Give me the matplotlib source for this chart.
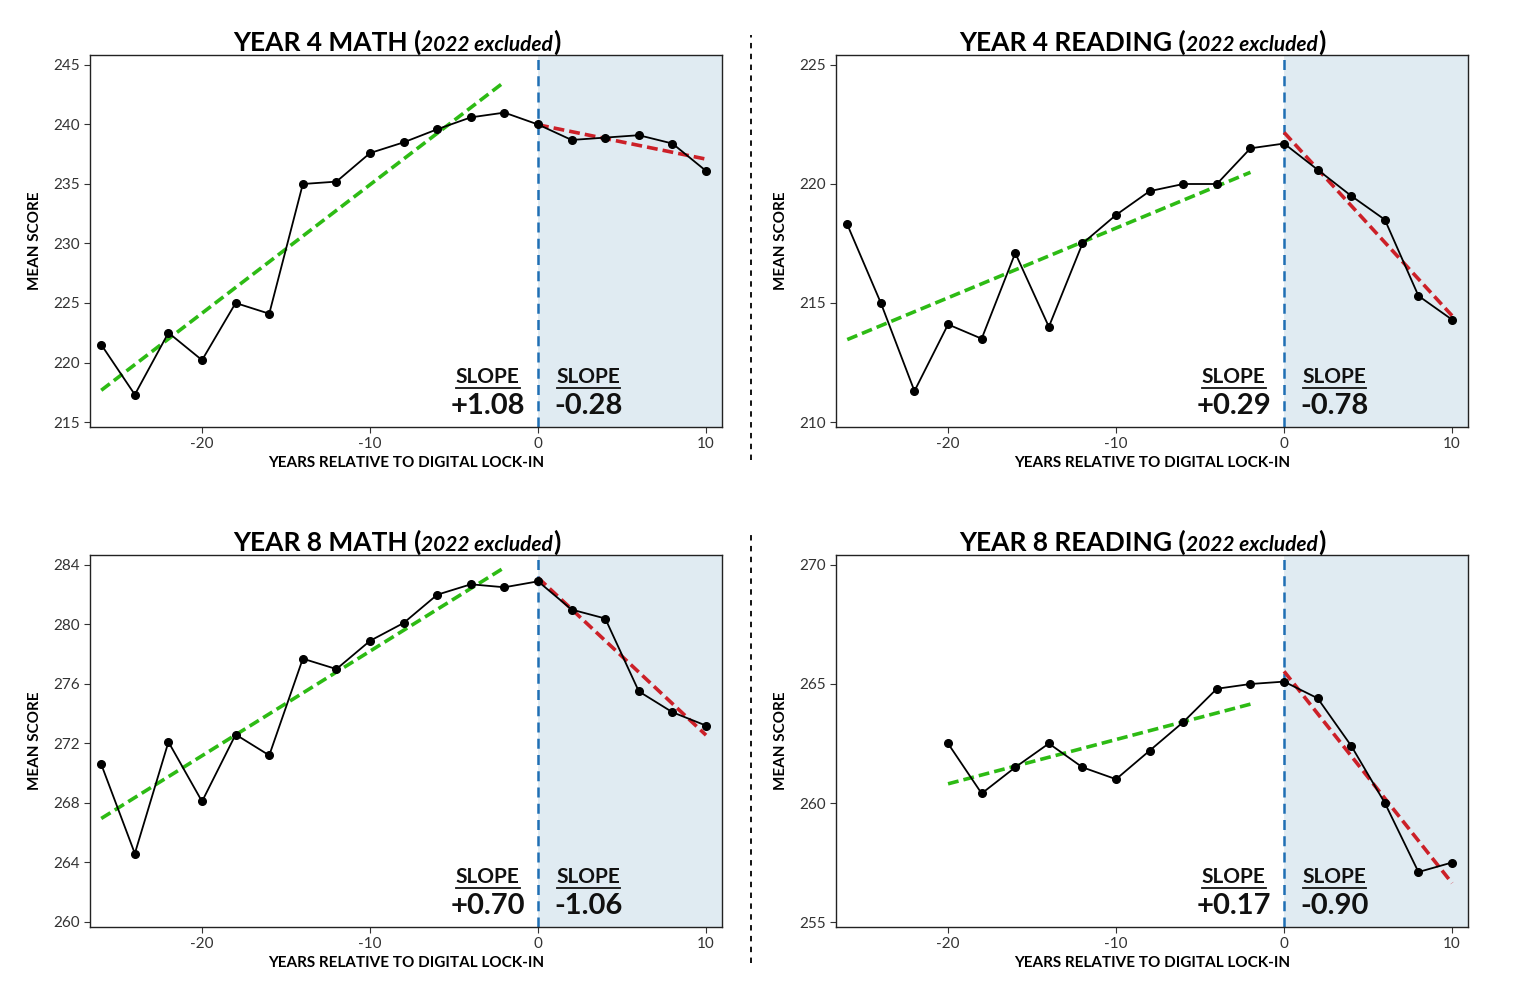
import numpy as np
import matplotlib
matplotlib.use("Agg")
import matplotlib.pyplot as plt
from matplotlib.lines import Line2D

plt.rcParams['font.family'] = ['Lato', 'DejaVu Sans']
plt.rcParams['axes.unicode_minus'] = False

# data
years = [-26, -24, -22, -20, -18, -16, -14, -12, -10, -8, -6, -4, -2, 0, 2, 4, 6, 8, 10]
years_y8r = [-20, -18, -16, -14, -12, -10, -8, -6, -4, -2, 0, 2, 4, 6, 8, 10]

y4_math = [221.5, 217.3, 222.5, 220.2, 225.0, 224.1, 235.0, 235.2, 237.6, 238.5,
           239.6, 240.6, 241.0, 240.0, 238.7, 238.9, 239.1, 238.4, 236.1]
y4_reading = [218.3, 215.0, 211.3, 214.1, 213.5, 217.1, 214.0, 217.5, 218.7, 219.7,
              220.0, 220.0, 221.5, 221.7, 220.6, 219.5, 218.5, 215.3, 214.3]
y8_math = [270.6, 264.6, 272.1, 268.1, 272.6, 271.2, 277.7, 277.0, 278.9, 280.1,
           282.0, 282.7, 282.5, 282.9, 281.0, 280.4, 275.5, 274.1, 273.2]
y8_reading = [262.5, 260.4, 261.5, 262.5, 261.5, 261.0, 262.2, 263.4, 264.8, 265.0,
              265.1, 264.4, 262.4, 260.0, 257.1, 257.5]

titles = ['YEAR 4 MATH', 'YEAR 4 READING', 'YEAR 8 MATH', 'YEAR 8 READING']
pre_slopes = ['+1.08', '+0.29', '+0.70', '+0.17']
post_slopes = ['-0.28', '-0.78', '-1.06', '-0.90']
yticks = [np.arange(215, 246, 5), np.arange(210, 226, 5), np.arange(260, 285, 4), np.arange(255, 271, 5)]
ylims = [(214.58, 245.84), (209.79, 225.42), (259.66, 284.67), (254.79, 270.42)]
xs = [years, years, years, years_y8r]
ys = [y4_math, y4_reading, y8_math, y8_reading]

fig = plt.figure(figsize=(15.2, 10), dpi=100)
positions = [[0.0592, 0.573, 0.4158, 0.372], [0.55, 0.573, 0.4158, 0.372],
             [0.0592, 0.073, 0.4158, 0.372], [0.55, 0.073, 0.4158, 0.372]]
xlim = (-26.67, 10.95)

axes = []
slope_labels = []
title_parts = []
for i in range(4):
    ax = fig.add_axes(positions[i])
    axes.append(ax)
    x = np.array(xs[i])
    y = np.array(ys[i])

    ax.axvspan(0, xlim[1], color='#e0ebf2', zorder=0, lw=0)
    ax.axvline(0, color='#1f6fb4', ls='--', lw=1.8, dashes=(4, 2.5), zorder=2)

    pre = x < 0
    post = x >= 0
    m1, b1 = np.polyfit(x[pre], y[pre], 1)
    m2, b2 = np.polyfit(x[post], y[post], 1)
    xp = np.array([x[pre].min(), x[pre].max()])
    xq = np.array([0, 10])
    ax.plot(xp, m1 * xp + b1, color='#2dbb14', lw=2.6, ls='--', dashes=(3, 1.4), zorder=3)
    ax.plot(xq, m2 * xq + b2, color='#cc2028', lw=2.6, ls='--', dashes=(3, 1.4), zorder=3)

    ax.plot(x, y, color='black', lw=1.3, marker='o', ms=5.5, zorder=4)

    ax.set_xlim(xlim)
    ax.set_ylim(ylims[i])
    ax.set_yticks(yticks[i])
    ax.set_xticks([-20, -10, 0, 10])
    ax.tick_params(labelsize=11, colors='#333333', length=4)
    for sp in ax.spines.values():
        sp.set_linewidth(1.0)
        sp.set_color('#222222')
    ax.set_ylabel('MEAN SCORE', fontsize=11, fontweight='bold', labelpad=8)
    ax.set_xlabel('YEARS RELATIVE TO DIGITAL LOCK-IN', fontsize=11, fontweight='bold', labelpad=3)

    s1 = ax.text(-3.0, 0.135, 'SLOPE', transform=ax.get_xaxis_transform(), ha='center', va='center',
                 fontsize=15, fontweight='bold', color='#111111')
    s2 = ax.text(3.0, 0.135, 'SLOPE', transform=ax.get_xaxis_transform(), ha='center', va='center',
                 fontsize=15, fontweight='bold', color='#111111')
    ax.text(-3.0, 0.056, pre_slopes[i], transform=ax.get_xaxis_transform(), ha='center', va='center',
            fontsize=21, fontweight='bold', color='#111111')
    ax.text(3.0, 0.056, post_slopes[i], transform=ax.get_xaxis_transform(), ha='center', va='center',
            fontsize=21, fontweight='bold', color='#111111')
    slope_labels += [s1, s2]

    t1 = fig.text(0, 0, titles[i] + ' (', fontsize=19, fontweight='bold', va='baseline')
    t2 = fig.text(0, 0, '2022 excluded', fontsize=15, fontweight='bold', fontstyle='italic', va='baseline')
    t3 = fig.text(0, 0, ')', fontsize=19, fontweight='bold', va='baseline')
    title_parts.append((ax, [t1, t2, t3]))

fig.canvas.draw()
r = fig.canvas.get_renderer()
W, H = fig.bbox.width, fig.bbox.height

# underline the SLOPE labels
for t in slope_labels:
    bb = t.get_window_extent(r)
    fig.add_artist(Line2D([bb.x0 / W, bb.x1 / W], [(bb.y0 - 1) / H] * 2, color='#111111', lw=1.3))

# center the mixed-style titles above each panel
for ax, parts in title_parts:
    widths = [p.get_window_extent(r).width / W for p in parts]
    pos = ax.get_position()
    cx = pos.x0 + pos.width * 0.485
    x0 = cx - sum(widths) / 2
    yb = pos.y1 + 0.004
    for p, w in zip(parts, widths):
        p.set_position((x0, yb))
        x0 += w

# dashed separator between columns
fig.add_artist(Line2D([0.494, 0.494], [0.54, 0.965], color='black', lw=1.3, ls='--', dashes=(3, 3)))
fig.add_artist(Line2D([0.494, 0.494], [0.037, 0.465], color='black', lw=1.3, ls='--', dashes=(3, 3)))

fig.savefig('out.png', dpi=100)
